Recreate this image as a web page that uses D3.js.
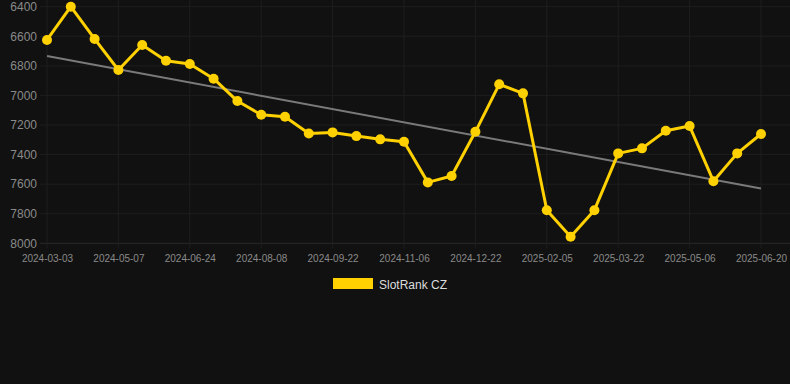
<!DOCTYPE html>
<html>
<head>
<meta charset="utf-8">
<script src="https://cdn.jsdelivr.net/npm/d3@7"></script>
<style>
  html, body { margin: 0; padding: 0; background: #111111; }
  svg { display: block; font-family: "Liberation Sans", Arial, sans-serif; }
</style>
</head>
<body>
<svg id="chart" width="790" height="384"></svg>
<script>
// Datos
const dates = [
  "2024-03-03", "2024-03-25", "2024-04-16", "2024-05-07", "2024-05-23", "2024-06-08",
  "2024-06-24", "2024-07-09", "2024-07-24", "2024-08-08", "2024-08-23", "2024-09-07",
  "2024-09-22", "2024-10-07", "2024-10-22", "2024-11-06", "2024-11-21", "2024-12-07",
  "2024-12-22", "2025-01-06", "2025-01-21", "2025-02-05", "2025-02-20", "2025-03-07",
  "2025-03-22", "2025-04-06", "2025-04-21", "2025-05-06", "2025-05-21", "2025-06-05",
  "2025-06-20"
];
const rankValues = [
  6625, 6400, 6618, 6828, 6659, 6765, 6788, 6887, 7038, 7131, 7144, 7257,
  7250, 7275, 7297, 7313, 7588, 7545, 7246, 6925, 6986, 7776, 7956, 7776,
  7392, 7358, 7239, 7207, 7580, 7392, 7261
];
const trendValues = [6734, 7629];   // inicio y fin de la tendencia
const yTicks = [6400, 6600, 6800, 7000, 7200, 7400, 7600, 7800, 8000];
const xTickLabels = dates.filter((d, i) => i % 3 === 0);
const seriesName = "SlotRank CZ";

// Constantes básicas
const chartWidth = 790;
const plotLeft = 40;
const plotTop = 6.7;
const plotBottom = 243.3;
const lineColor = "#ffd100";
const gridColor = "#1e1e1e";

const svg = d3.select("#chart");

const xScale = d3.scalePoint()
  .domain(dates)
  .range([47, 761]);
const yScale = d3.scaleLinear()
  .domain([6400, 8000])
  .range([plotTop, plotBottom]);

// Rejilla horizontal
svg.append("g")
  .selectAll("line")
  .data(yTicks)
  .join("line")
    .attr("x1", plotLeft)
    .attr("x2", chartWidth)
    .attr("y1", d => yScale(d))
    .attr("y2", d => yScale(d))
    .attr("stroke", d => d === 8000 ? "#2a2a2a" : gridColor)
    .attr("stroke-width", 1);

// Rejilla vertical
svg.append("g")
  .selectAll("line")
  .data(xTickLabels)
  .join("line")
    .attr("x1", d => xScale(d))
    .attr("x2", d => xScale(d))
    .attr("y1", 0)
    .attr("y2", plotBottom + 5)
    .attr("stroke", gridColor)
    .attr("stroke-width", 1);

// Eje Y
const yAxis = d3.axisLeft(yScale)
  .tickValues(yTicks)
  .tickFormat(d3.format("d"))
  .tickSize(0)
  .tickPadding(0);
const gy = svg.append("g")
  .attr("transform", `translate(37, 0)`)
  .call(yAxis);
gy.select(".domain").remove();
gy.selectAll("text")
  .attr("fill", "#8a8a8a")
  .attr("font-size", "12px")
  .attr("font-family", "Liberation Sans, Arial, sans-serif");

// Eje X
const xAxis = d3.axisBottom(xScale)
  .tickValues(xTickLabels)
  .tickSize(0)
  .tickPadding(12);
const gx = svg.append("g")
  .attr("transform", `translate(0, ${plotBottom})`)
  .call(xAxis);
gx.select(".domain").remove();
gx.selectAll("text")
  .attr("fill", "#8a8a8a")
  .attr("font-size", "10px")
  .attr("font-family", "Liberation Sans, Arial, sans-serif");

// Tendencia
svg.append("line")
  .attr("x1", xScale(dates[0]))
  .attr("x2", xScale(dates[dates.length - 1]))
  .attr("y1", yScale(trendValues[0]))
  .attr("y2", yScale(trendValues[1]))
  .attr("stroke", "#7a7a7a")
  .attr("stroke-width", 2);

// Serie
const data = dates.map((d, i) => ({ date: d, val: rankValues[i] }));
const line = d3.line()
  .x(d => xScale(d.date))
  .y(d => yScale(d.val));

svg.append("path")
  .attr("d", line(data))
  .attr("fill", "none")
  .attr("stroke", lineColor)
  .attr("stroke-width", 3)
  .attr("stroke-linejoin", "round");

svg.append("g")
  .selectAll("circle")
  .data(data)
  .join("circle")
    .attr("cx", d => xScale(d.date))
    .attr("cy", d => yScale(d.val))
    .attr("r", 5)
    .attr("fill", lineColor);

// Leyenda
svg.append("rect")
  .attr("x", 333)
  .attr("y", 278)
  .attr("width", 40)
  .attr("height", 11)
  .attr("fill", lineColor);
svg.append("text")
  .attr("x", 379)
  .attr("y", 289)
  .attr("fill", "#dddddd")
  .attr("font-size", "12px")
  .text(seriesName);
</script>
</body>
</html>
